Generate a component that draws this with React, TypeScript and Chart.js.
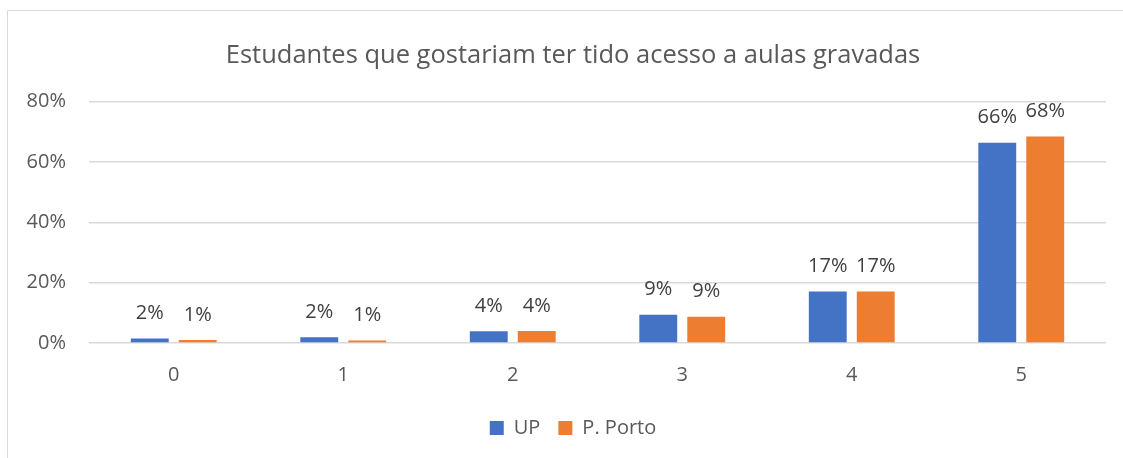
import React, { useEffect, useRef } from "react";
import { Chart, registerables } from "chart.js";

Chart.register(...registerables);

const categories = ["0", "1", "2", "3", "4", "5"];
const upValues = [1.5, 1.9, 3.9, 9.4, 17.1, 66.4];
const portoValues = [1.0, 0.8, 4.0, 8.7, 17.1, 68.4];
const yTicks = [0, 20, 40, 60, 80];
const seriesNames = ["UP", "P. Porto"];
const titleText = "Estudantes que gostariam ter tido acesso a aulas gravadas";

const FONT = "'Open Sans', sans-serif";
const CANVAS_W = 1146;
const CANVAS_H = 458;

const framePlugin = {
  id: "frame",
  beforeDraw(chart: any) {
    const ctx = chart.ctx;
    ctx.save();
    ctx.fillStyle = "#ffffff";
    ctx.fillRect(0, 0, chart.width, chart.height);
    ctx.strokeStyle = "#D9D9D9";
    ctx.lineWidth = 1;
    ctx.beginPath();
    ctx.moveTo(7.5, chart.height);
    ctx.lineTo(7.5, 10.5);
    ctx.lineTo(chart.width, 10.5);
    ctx.stroke();
    ctx.restore();
  },
};

const labelPlugin = {
  id: "barLabels",
  afterDatasetsDraw(chart: any) {
    const ctx = chart.ctx;
    ctx.save();
    ctx.font = `20px ${FONT}`;
    ctx.fillStyle = "#404040";
    ctx.textAlign = "center";
    ctx.textBaseline = "middle";
    chart.data.datasets.forEach((ds: any, di: number) => {
      const meta = chart.getDatasetMeta(di);
      meta.data.forEach((bar: any, i: number) => {
        const v = ds.data[i];
        ctx.fillText(Math.round(v) + "%", bar.x, bar.y - 25);
      });
    });
    ctx.restore();
  },
};

export default function App() {
  const ref = useRef<HTMLCanvasElement>(null);
  useEffect(() => {
    if (!ref.current) return;
    const chart = new Chart(ref.current, {
      type: "bar",
      data: {
        labels: categories,
        datasets: [
          {
            label: seriesNames[0],
            data: upValues,
            backgroundColor: "#4472C4",
            categoryPercentage: 0.566,
            barPercentage: 0.79,
          },
          {
            label: seriesNames[1],
            data: portoValues,
            backgroundColor: "#ED7D31",
            categoryPercentage: 0.566,
            barPercentage: 0.79,
          },
        ],
      },
      options: {
        responsive: false,
        animation: false,
        layout: { padding: { left: 0, right: 0, top: 0, bottom: 10 } },
        plugins: {
          title: {
            display: true,
            text: titleText,
            color: "#595959",
            font: { family: FONT, size: 25.5, weight: "normal" },
            padding: { top: 40, bottom: 31 },
          },
          legend: {
            position: "bottom",
            labels: {
              color: "#595959",
              font: { family: FONT, size: 20 },
              boxWidth: 14,
              boxHeight: 14,
              padding: 18,
            },
          },
          tooltip: { enabled: false },
        },
        scales: {
          x: {
            grid: { display: false, drawTicks: false },
            border: { display: false },
            ticks: {
              color: "#595959",
              font: { family: FONT, size: 20 },
              padding: 20,
            },
            afterFit: (s: any) => {
              s.height = 57;
            },
          },
          y: {
            min: 0,
            max: 80,
            afterBuildTicks: (s: any) => {
              s.ticks = yTicks.map((v) => ({ value: v }));
            },
            afterFit: (s: any) => {
              s.width = 89;
            },
            grid: { color: "#D9D9D9", lineWidth: 1.5, drawTicks: false },
            border: { display: false },
            ticks: {
              color: "#595959",
              font: { family: FONT, size: 20 },
              padding: 23,
              callback: (v: any) => v + "%",
            },
          },
          yRight: {
            type: "linear",
            position: "right",
            display: true,
            grid: { display: false, drawTicks: false },
            border: { display: false },
            ticks: { display: false },
            afterFit: (s: any) => {
              s.width = CANVAS_W - 1106;
            },
          },
        },
      },
      plugins: [framePlugin, labelPlugin],
    });
    return () => chart.destroy();
  }, []);
  return (
    <div
      style={{
        position: "absolute",
        left: 0,
        top: 0,
        width: 1123,
        height: CANVAS_H,
        overflow: "hidden",
      }}
    >
      <canvas ref={ref} width={CANVAS_W} height={CANVAS_H} />
    </div>
  );
}
